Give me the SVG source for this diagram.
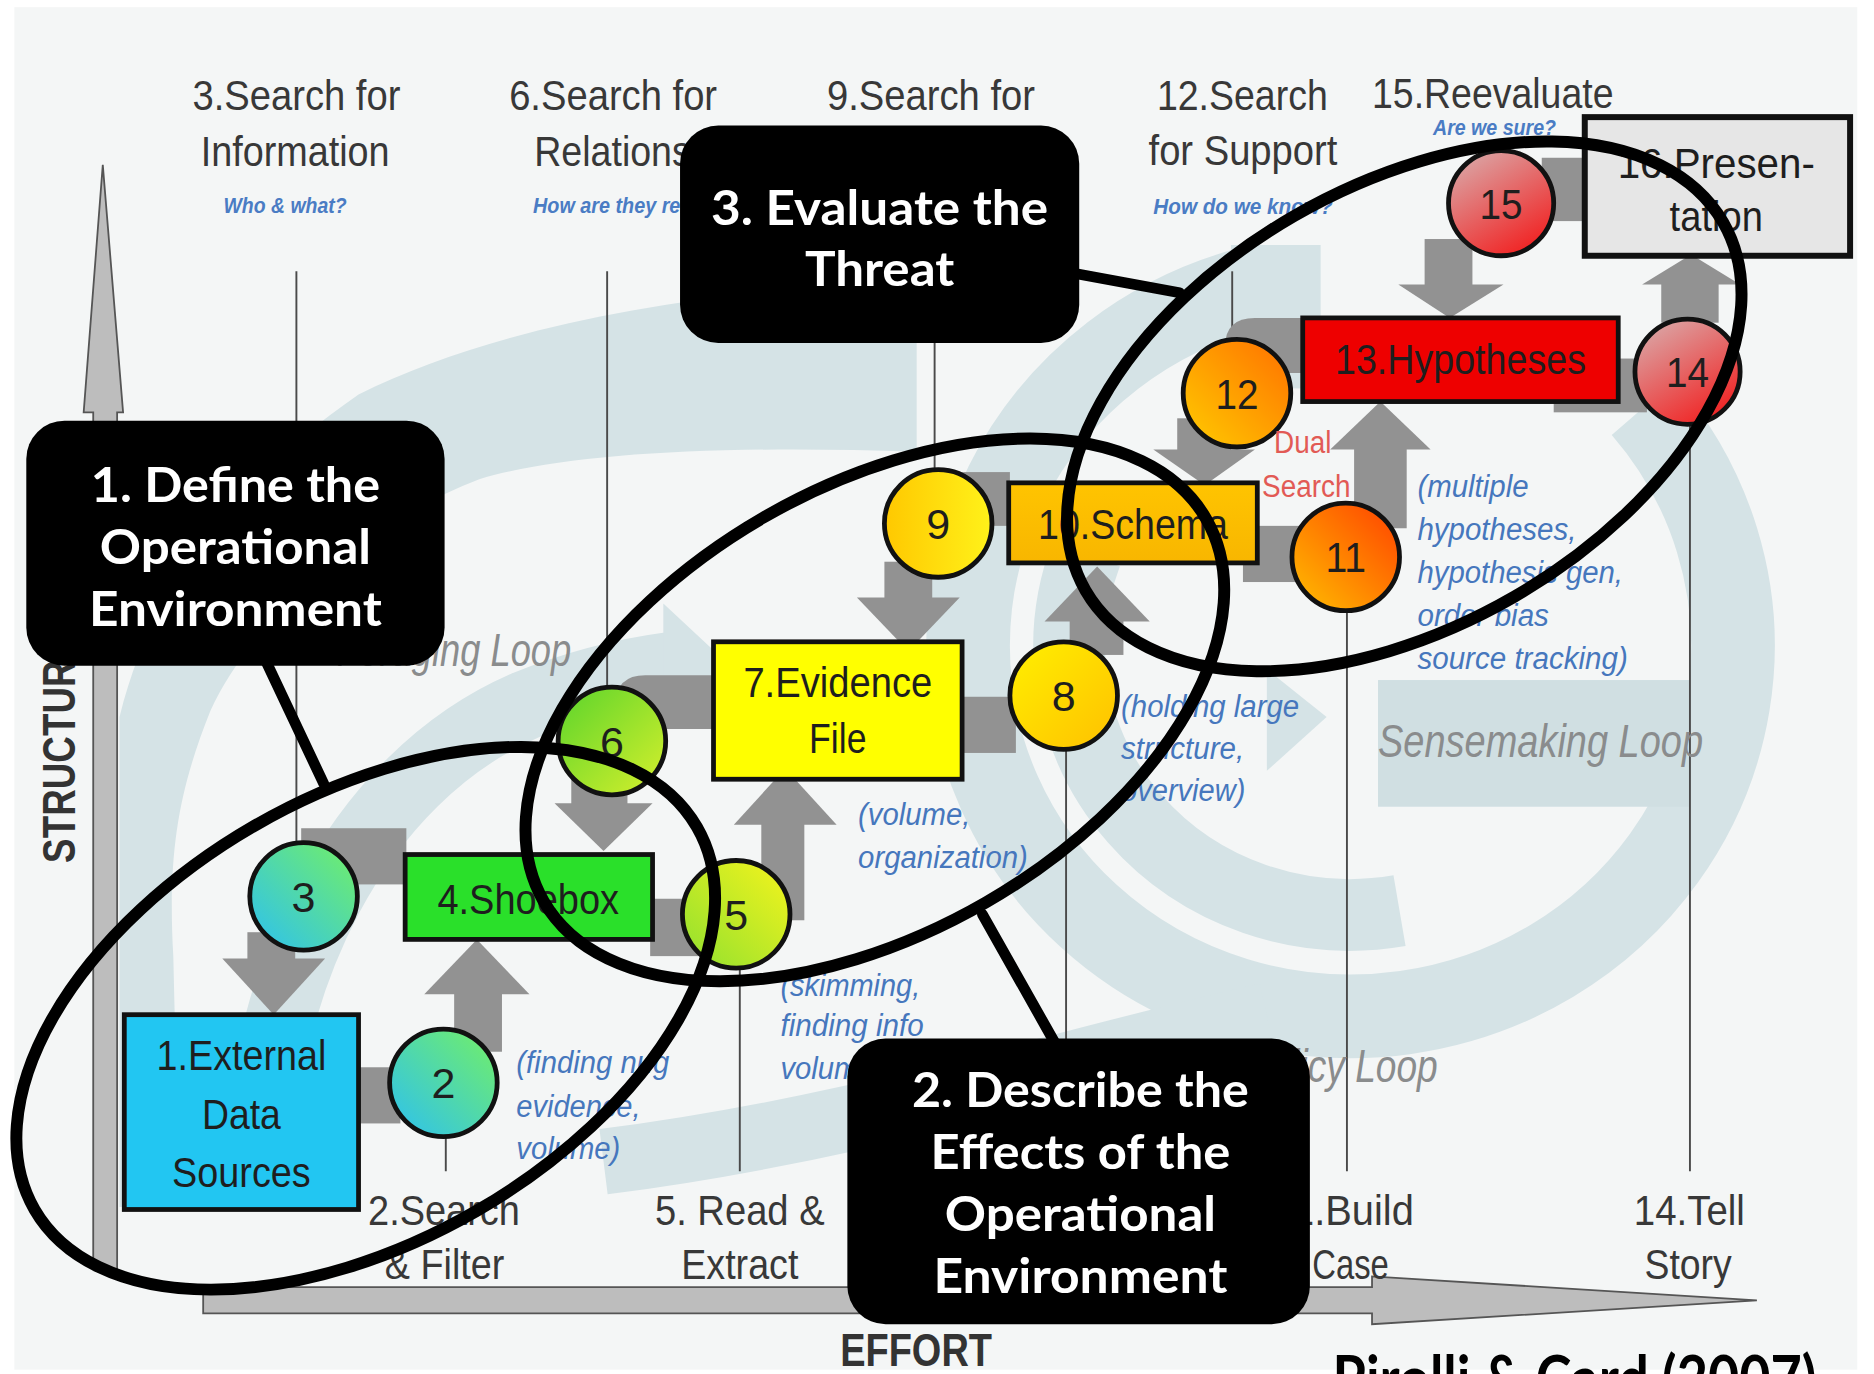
<svg xmlns="http://www.w3.org/2000/svg" width="1874" height="1374" viewBox="0 0 1874 1374">
<defs>
<style>
.lbl{font-family:"Liberation Sans",Arial,sans-serif;font-size:36px;fill:#383838}
.nl{font-family:"Liberation Sans",Arial,sans-serif;font-size:36px;fill:#1e1e1e;text-anchor:middle}
.num{font-family:"Liberation Sans",Arial,sans-serif;font-size:36px;fill:#1e1e1e;text-anchor:middle}
.q{font-family:"Liberation Sans",Arial,sans-serif;font-size:19px;font-style:italic;font-weight:bold;fill:#4a7cc4}
.ann{font-family:"Liberation Sans",Arial,sans-serif;font-size:27px;font-style:italic;fill:#4677bd}
.loop{font-family:"Liberation Sans",Arial,sans-serif;font-size:38px;font-style:italic;fill:#8a8c8d}
.red{font-family:"Liberation Sans",Arial,sans-serif;font-size:27px;fill:#e25a55}
.axis{font-family:"Liberation Sans",Arial,sans-serif;font-weight:bold;font-size:38px;fill:#333}
.call{font-family:Lato,"Open Sans",sans-serif;font-weight:bold;font-size:40px;fill:#fff;text-anchor:middle}
.cbox{fill:#000}
.cl{stroke:#000;stroke-width:9;stroke-linecap:round}
.ell{fill:none;stroke:#000;stroke-width:10}
.arw{fill:#929292}
.vl{stroke:#4a4a4a;stroke-width:1.6}
.nb{stroke:#111;stroke-width:4}
.bg{fill:#d5e3e6}
.bgs{fill:none;stroke:#d5e3e6}
</style>
<linearGradient id="gcg" x1="0" y1="1" x2="1" y2="0"><stop offset="0" stop-color="#2cc0f2"/><stop offset="1" stop-color="#74f064"/></linearGradient>
<linearGradient id="g6" x1="0" y1="0" x2="1" y2="1"><stop offset="0" stop-color="#5ad42c"/><stop offset="1" stop-color="#d8f02c"/></linearGradient>
<linearGradient id="g5" x1="0" y1="1" x2="1" y2="0"><stop offset="0" stop-color="#8fe030"/><stop offset="1" stop-color="#f6f41c"/></linearGradient>
<linearGradient id="g8" x1="0" y1="0" x2="1" y2="1"><stop offset="0" stop-color="#fff000"/><stop offset="1" stop-color="#ffc000"/></linearGradient>
<linearGradient id="g9" x1="0" y1="0.5" x2="1" y2="0.5"><stop offset="0" stop-color="#ffc800"/><stop offset="1" stop-color="#fff21a"/></linearGradient>
<linearGradient id="g11" x1="1" y1="0" x2="0" y2="1"><stop offset="0" stop-color="#ff4000"/><stop offset="1" stop-color="#ffc000"/></linearGradient>
<linearGradient id="g12" x1="1" y1="0" x2="0" y2="1"><stop offset="0" stop-color="#ff7000"/><stop offset="1" stop-color="#ffcc00"/></linearGradient>
<linearGradient id="g14" x1="0" y1="0" x2="0.6" y2="1"><stop offset="0" stop-color="#d8b4b4"/><stop offset="1" stop-color="#f02828"/></linearGradient>
<linearGradient id="g10" x1="0" y1="0" x2="0" y2="1"><stop offset="0" stop-color="#ffc400"/><stop offset="1" stop-color="#f8b600"/></linearGradient>
</defs>
<rect width="1874" height="1374" fill="#ffffff"/>
<g transform="scale(1.19515)">
<rect x="12" y="6" width="1542" height="1140" fill="#f4f6f6"/>
<g id="background">
<path class="bg" d="M 100 1010 L 100 600 C 130 480 200 400 300 330 C 420 270 600 240 767 237 L 767 378 C 600 372 470 380 401 401 C 300 440 210 520 176 595 C 150 660 140 712 145 800 L 150 1010 Z"/>
<path class="bgs" stroke-width="58" d="M 215 1000 C 215 820 300 650 440 590 C 490 570 530 562 560 558"/>
<polygon class="bg" points="555,505 612,558 555,611"/>
<path class="bgs" stroke-width="70" d="M 1375 341 A 320 310 0 1 1 1047 241"/>
<rect class="bg" x="1030" y="205" width="75" height="120"/>
<path class="bgs" stroke-width="60" d="M 909 463 A 235 225 0 0 0 1171 762"/>
<polygon class="bg" points="1060,560 1110,600 1060,645"/>
<path class="bgs" stroke-width="55" d="M 1060 850 C 900 885 720 945 505 972"/>
<rect x="1153" y="569" width="261" height="106" fill="#d0dfe2"/>
</g>
<g id="axes">
<path d="M 86 138 L 103 345 L 98 345 L 98 1062 L 78 1062 L 78 345 L 70 345 Z" fill="#bdbdbd" stroke="#555" stroke-width="1.5"/>
<path d="M 170 1077 L 1148 1077 L 1148 1068 L 1470 1088 L 1148 1108 L 1148 1099 L 170 1099 Z" fill="#bdbdbd" stroke="#555" stroke-width="1.5"/>
<text class="axis" x="703" y="1143" textLength="127" lengthAdjust="spacingAndGlyphs">EFFORT</text>
<text class="axis" font-size="42" transform="translate(63,722) rotate(-90)" textLength="190" lengthAdjust="spacingAndGlyphs">STRUCTURE</text>
</g>
<g id="guides">
<line class="vl" x1="248" y1="227" x2="248" y2="750"/>
<line class="vl" x1="508" y1="227" x2="508" y2="620"/>
<line class="vl" x1="782" y1="227" x2="782" y2="438"/>
<line class="vl" x1="1031" y1="227" x2="1031" y2="329"/>
<line class="vl" x1="373" y1="906" x2="373" y2="980"/>
<line class="vl" x1="619" y1="765" x2="619" y2="980"/>
<line class="vl" x1="892" y1="582" x2="892" y2="980"/>
<line class="vl" x1="1127" y1="466" x2="1127" y2="980"/>
<line class="vl" x1="1414" y1="311" x2="1414" y2="980"/>
</g>
<g id="stage-labels">
<text class="lbl" x="161" y="92" textLength="174" lengthAdjust="spacingAndGlyphs">3.Search for</text>
<text class="lbl" x="168" y="139" textLength="158" lengthAdjust="spacingAndGlyphs">Information</text>
<text class="q" x="187" y="178" textLength="103" lengthAdjust="spacingAndGlyphs">Who &amp; what?</text>
<text class="lbl" x="426" y="92" textLength="174" lengthAdjust="spacingAndGlyphs">6.Search for</text>
<text class="lbl" x="447" y="139" textLength="131" lengthAdjust="spacingAndGlyphs">Relations</text>
<text class="q" x="446" y="178" textLength="172" lengthAdjust="spacingAndGlyphs">How are they related?</text>
<text class="lbl" x="692" y="92" textLength="174" lengthAdjust="spacingAndGlyphs">9.Search for</text>
<text class="lbl" x="968" y="92" textLength="143" lengthAdjust="spacingAndGlyphs">12.Search</text>
<text class="lbl" x="961" y="138" textLength="158" lengthAdjust="spacingAndGlyphs">for Support</text>
<text class="q" x="965" y="179" textLength="150" lengthAdjust="spacingAndGlyphs">How do we know?</text>
<text class="lbl" x="1148" y="90" textLength="202" lengthAdjust="spacingAndGlyphs">15.Reevaluate</text>
<text class="q" font-size="17" x="1199" y="113" textLength="103" lengthAdjust="spacingAndGlyphs">Are we sure?</text>
<text class="lbl" x="308" y="1025" textLength="127" lengthAdjust="spacingAndGlyphs">2.Search</text>
<text class="lbl" x="322" y="1070" textLength="100" lengthAdjust="spacingAndGlyphs">&amp; Filter</text>
<text class="lbl" x="548" y="1025" textLength="142" lengthAdjust="spacingAndGlyphs">5. Read &amp;</text>
<text class="lbl" x="570" y="1070" textLength="98" lengthAdjust="spacingAndGlyphs">Extract</text>
<text class="lbl" x="1065" y="1025" textLength="118" lengthAdjust="spacingAndGlyphs">11.Build</text>
<text class="lbl" x="1098" y="1070" textLength="64" lengthAdjust="spacingAndGlyphs">Case</text>
<text class="lbl" x="1367" y="1025" textLength="93" lengthAdjust="spacingAndGlyphs">14.Tell</text>
<text class="lbl" x="1376" y="1070" textLength="73" lengthAdjust="spacingAndGlyphs">Story</text>
<text class="loop" x="478" y="557" text-anchor="end" textLength="196" lengthAdjust="spacingAndGlyphs">Foraging Loop</text>
<text class="loop" x="1153" y="633" textLength="272" lengthAdjust="spacingAndGlyphs">Sensemaking Loop</text>
<text class="loop" x="1203" y="905" text-anchor="end" textLength="264" lengthAdjust="spacingAndGlyphs">Reality/Policy Loop</text>
</g>
<g id="connectors">
<rect class="arw" x="207" y="780" width="40" height="24"/>
<polygon class="arw" points="186,802 272,802 229,849"/>
<rect class="arw" x="252" y="693" width="88" height="47"/>
<rect class="arw" x="544" y="752" width="48" height="48"/>
<rect class="arw" x="298" y="893" width="37" height="47"/>
<rect class="arw" x="380" y="828" width="40" height="52"/>
<polygon class="arw" points="355,832 443,832 399,786"/>
<rect class="arw" x="478" y="640" width="47" height="34"/>
<polygon class="arw" points="464,672 546,672 505,712"/>
<path class="arw" d="M 515 610 L 515 590 Q 515 565 540 565 L 598 565 L 598 610 Z"/>
<rect class="arw" x="637" y="688" width="36" height="82"/>
<polygon class="arw" points="614,690 700,690 657,643"/>
<rect class="arw" x="803" y="583" width="47" height="47"/>
<rect class="arw" x="740" y="470" width="40" height="32"/>
<polygon class="arw" points="717,500 803,500 760,545"/>
<rect class="arw" x="800" y="395" width="45" height="45"/>
<rect class="arw" x="895" y="515" width="45" height="33"/>
<polygon class="arw" points="874,520 962,520 918,474"/>
<rect class="arw" x="1040" y="440" width="50" height="47"/>
<rect class="arw" x="985" y="350" width="45" height="28"/>
<polygon class="arw" points="965,376 1050,376 1008,406"/>
<rect class="arw" x="1133" y="372" width="44" height="70"/>
<polygon class="arw" points="1113,376 1197,376 1155,336"/>
<path class="arw" d="M 1025 312 L 1025 290 Q 1025 266 1050 266 L 1090 266 L 1090 312 Z"/>
<rect class="arw" x="1300" y="300" width="78" height="45"/>
<rect class="arw" x="1390" y="235" width="48" height="35"/>
<polygon class="arw" points="1374,238 1456,238 1415,213"/>
<rect class="arw" x="1192" y="200" width="40" height="40"/>
<polygon class="arw" points="1170,238 1258,238 1213,266"/>
<rect class="arw" x="1290" y="132" width="40" height="53"/>
</g>
<g id="n1"><rect class="nb" x="104" y="849" width="196" height="163" fill="#22c6f2"/>
<text class="nl" x="202" y="895" textLength="142" lengthAdjust="spacingAndGlyphs">1.External</text>
<text class="nl" x="202" y="945" textLength="66" lengthAdjust="spacingAndGlyphs">Data</text>
<text class="nl" x="202" y="993" textLength="116" lengthAdjust="spacingAndGlyphs">Sources</text></g>
<g id="n2"><circle class="nb" cx="371" cy="906" r="45" fill="url(#gcg)"/><text class="num" x="371" y="919">2</text></g>
<g id="n3"><circle class="nb" cx="254" cy="750" r="45" fill="url(#gcg)"/><text class="num" x="254" y="763">3</text></g>
<g id="n4"><rect class="nb" x="339" y="715" width="207" height="71" fill="#2ae02a"/>
<text class="nl" x="442" y="765" textLength="152" lengthAdjust="spacingAndGlyphs">4.Shoebox</text></g>
<g id="n5"><circle class="nb" cx="616" cy="765" r="45" fill="url(#g5)"/><text class="num" x="616" y="778">5</text></g>
<g id="n6"><circle class="nb" cx="512" cy="620" r="45" fill="url(#g6)"/><text class="num" x="512" y="633">6</text></g>
<g id="n7"><rect class="nb" x="597" y="537" width="208" height="115" fill="#ffff00"/>
<text class="nl" x="701" y="583" textLength="158" lengthAdjust="spacingAndGlyphs">7.Evidence</text>
<text class="nl" x="701" y="630" textLength="48" lengthAdjust="spacingAndGlyphs">File</text></g>
<g id="n8"><circle class="nb" cx="890" cy="582" r="45" fill="url(#g8)"/><text class="num" x="890" y="595">8</text></g>
<g id="n9"><circle class="nb" cx="785" cy="438" r="45" fill="url(#g9)"/><text class="num" x="785" y="451">9</text></g>
<g id="n10"><rect class="nb" x="844" y="404" width="208" height="67" fill="url(#g10)"/>
<text class="nl" x="948" y="451" textLength="159" lengthAdjust="spacingAndGlyphs">10.Schema</text></g>
<g id="n11"><circle class="nb" cx="1126" cy="466" r="45" fill="url(#g11)"/><text class="num" x="1126" y="479" textLength="34" lengthAdjust="spacingAndGlyphs">11</text></g>
<g id="n12"><circle class="nb" cx="1035" cy="329" r="45" fill="url(#g12)"/><text class="num" x="1035" y="342" textLength="36" lengthAdjust="spacingAndGlyphs">12</text></g>
<g id="n13"><rect class="nb" x="1090" y="266" width="264" height="70" fill="#ee0000"/>
<text class="nl" x="1222" y="313" textLength="210" lengthAdjust="spacingAndGlyphs">13.Hypotheses</text></g>
<g id="n14"><circle class="nb" cx="1412" cy="311" r="44" fill="url(#g14)"/><text class="num" x="1412" y="324" textLength="36" lengthAdjust="spacingAndGlyphs">14</text></g>
<g id="n15"><circle class="nb" cx="1256" cy="170" r="44" fill="url(#g14)"/><text class="num" x="1256" y="183" textLength="36" lengthAdjust="spacingAndGlyphs">15</text></g>
<g id="n16"><rect x="1326" y="98" width="222" height="116" fill="#e6e6e6" stroke="#111" stroke-width="5"/>
<text class="nl" x="1436" y="149" textLength="165" lengthAdjust="spacingAndGlyphs">16.Presen-</text>
<text class="nl" x="1436" y="193" textLength="78" lengthAdjust="spacingAndGlyphs">tation</text></g>
<g id="annotations">
<text class="ann" x="432" y="898" textLength="128" lengthAdjust="spacingAndGlyphs">(finding nug</text>
<text class="ann" x="432" y="935" textLength="104" lengthAdjust="spacingAndGlyphs">evidence,</text>
<text class="ann" x="432" y="970" textLength="87" lengthAdjust="spacingAndGlyphs">volume)</text>
<text class="ann" x="653" y="833" textLength="117" lengthAdjust="spacingAndGlyphs">(skimming,</text>
<text class="ann" x="653" y="867" textLength="120" lengthAdjust="spacingAndGlyphs">finding info</text>
<text class="ann" x="653" y="903" textLength="87" lengthAdjust="spacingAndGlyphs">volume)</text>
<text class="ann" x="718" y="690" textLength="94" lengthAdjust="spacingAndGlyphs">(volume,</text>
<text class="ann" x="718" y="726" textLength="142" lengthAdjust="spacingAndGlyphs">organization)</text>
<text class="ann" x="938" y="600" textLength="149" lengthAdjust="spacingAndGlyphs">(holding large</text>
<text class="ann" x="938" y="635" textLength="103" lengthAdjust="spacingAndGlyphs">structure,</text>
<text class="ann" x="938" y="670" textLength="104" lengthAdjust="spacingAndGlyphs">overview)</text>
<text class="ann" x="1186" y="416" textLength="93" lengthAdjust="spacingAndGlyphs">(multiple</text>
<text class="ann" x="1186" y="452" textLength="133" lengthAdjust="spacingAndGlyphs">hypotheses,</text>
<text class="ann" x="1186" y="488" textLength="172" lengthAdjust="spacingAndGlyphs">hypothesis gen,</text>
<text class="ann" x="1186" y="524" textLength="110" lengthAdjust="spacingAndGlyphs">order bias</text>
<text class="ann" x="1186" y="560" textLength="176" lengthAdjust="spacingAndGlyphs">source tracking)</text>
<text class="red" x="1066" y="379" textLength="48" lengthAdjust="spacingAndGlyphs">Dual</text>
<text class="red" x="1056" y="416" textLength="74" lengthAdjust="spacingAndGlyphs">Search</text>
</g>
<g id="ellipses">
<ellipse class="ell" cx="306" cy="852" rx="320" ry="186" transform="rotate(-30 306 852)"/>
<ellipse class="ell" cx="732" cy="594" rx="320" ry="186" transform="rotate(-30 732 594)"/>
<ellipse class="ell" cx="1175" cy="340" rx="308" ry="184" transform="rotate(-30 1175 340)"/>
</g>
<g id="callout1">
<line class="cl" x1="221" y1="550" x2="271" y2="656"/>
<rect class="cbox" x="22" y="352" width="350" height="205" rx="32"/>
<text class="call" x="197" y="420" textLength="242" lengthAdjust="spacingAndGlyphs">1. Define the</text>
<text class="call" x="197" y="472" textLength="227" lengthAdjust="spacingAndGlyphs">Operational</text>
<text class="call" x="197" y="524" textLength="245" lengthAdjust="spacingAndGlyphs">Environment</text>
</g>
<g id="callout2">
<line class="cl" x1="822" y1="765" x2="884" y2="875"/>
<rect class="cbox" x="709" y="869" width="387" height="239" rx="32"/>
<text class="call" x="904" y="926" textLength="282" lengthAdjust="spacingAndGlyphs">2. Describe the</text>
<text class="call" x="904" y="978" textLength="251" lengthAdjust="spacingAndGlyphs">Effects of the</text>
<text class="call" x="904" y="1030" textLength="227" lengthAdjust="spacingAndGlyphs">Operational</text>
<text class="call" x="904" y="1082" textLength="246" lengthAdjust="spacingAndGlyphs">Environment</text>
</g>
<g id="callout3">
<line class="cl" x1="895" y1="228" x2="987" y2="245"/>
<rect class="cbox" x="569" y="105" width="334" height="182" rx="32"/>
<text class="call" x="736" y="188" textLength="282" lengthAdjust="spacingAndGlyphs">3. Evaluate the</text>
<text class="call" x="736" y="239" textLength="125" lengthAdjust="spacingAndGlyphs">Threat</text>
</g>
<text x="1115" y="1172" font-family="Lato,'Open Sans',sans-serif" font-weight="bold" font-size="52" fill="#000" textLength="405" lengthAdjust="spacingAndGlyphs">Pirolli &amp; Card (2007)</text>
</g>
</svg>
